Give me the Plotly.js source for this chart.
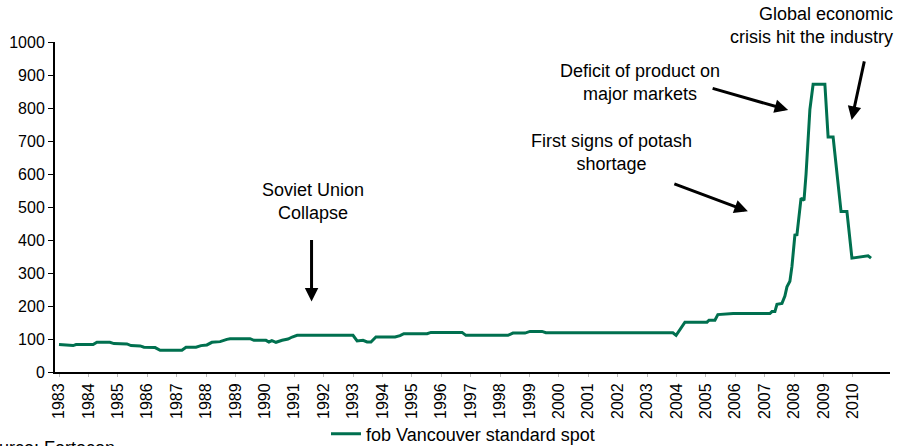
<!DOCTYPE html>
<html>
<head>
<meta charset="utf-8">
<script src="https://cdn.plot.ly/plotly-3.0.1.min.js"></script>
<style>
  html, body { margin: 0; padding: 0; background: #fff; }
  #plot { width: 899px; height: 446px; }
</style>
</head>
<body>
<div id="plot"></div>
<script>
// potash price, fob Vancouver standard spot (USD/t)
let years = [
  1983.00, 1983.48, 1983.58, 1984.16, 1984.29, 1984.73, 1984.87, 1985.31, 1985.45, 1985.76,
  1985.89, 1986.27, 1986.44, 1987.18, 1987.32, 1987.66, 1987.83, 1988.03, 1988.20, 1988.48,
  1988.71, 1988.82, 1989.50, 1989.63, 1990.04, 1990.14, 1990.24, 1990.38, 1990.59, 1990.79,
  1990.93, 1991.10, 1993.00, 1993.14, 1993.34, 1993.48, 1993.61, 1993.78, 1994.43, 1994.60,
  1994.73, 1995.52, 1995.65, 1996.71, 1996.84, 1998.27, 1998.44, 1998.85, 1999.02, 1999.43,
  1999.56, 2003.88, 2003.99, 2004.29, 2005.04, 2005.11, 2005.31, 2005.41, 2005.93, 2007.18,
  2007.25, 2007.35, 2007.42, 2007.59, 2007.69, 2007.76, 2007.86, 2007.93, 2008.03, 2008.10,
  2008.24, 2008.34, 2008.41, 2008.48, 2008.54, 2008.65, 2009.05, 2009.16, 2009.33, 2009.60,
  2009.80, 2009.97, 2010.17, 2010.52, 2010.62
];
let prices = [
  83, 80, 83, 83, 90, 90, 86, 85, 80, 79,
  75, 74, 66, 66, 75, 75, 80, 82, 90, 92,
  99, 101, 101, 96, 96, 91, 95, 90, 96, 100,
  106, 111, 111, 94, 96, 91, 91, 106, 106, 110,
  116, 116, 120, 120, 111, 111, 118, 118, 123, 123,
  119, 119, 111, 151, 151, 157, 157, 174, 177, 177,
  183, 183, 205, 208, 230, 258, 275, 320, 415, 416,
  527, 520, 600, 730, 795, 872, 872, 712, 712, 486,
  486, 345, 348, 352, 345
];

let tickYears = [];
for (let y = 1983; y <= 2010; y++) tickYears.push(y);
let tickLabels = tickYears.map(String);

let seriesName = 'fob Vancouver standard spot';
let lineColor = '#00704f';
let fontFamily = 'Liberation Sans, Arial, sans-serif';

// plot area in page pixels, used to place the notes outside it
let plotL = 55, plotR = 890, plotT = 42, plotB = 372;
function px(x) { return (x - plotL) / (plotR - plotL); }
function py(y) { return (plotB - y) / (plotB - plotT); }

let trace = {
  x: years,
  y: prices,
  type: 'scatter',
  mode: 'lines',
  name: seriesName,
  line: { color: lineColor, width: 3 }
};

function arrow(x, y, ax, ay) {
  return {
    x: x, y: y, xref: 'x', yref: 'y',
    ax: ax, ay: ay, axref: 'pixel', ayref: 'pixel',
    text: '', showarrow: true,
    arrowhead: 2, arrowsize: 0.9, arrowwidth: 3, arrowcolor: '#000'
  };
}

function label(x, y, text, xanchor, align) {
  return {
    x: px(x), y: py(y), xref: 'paper', yref: 'paper',
    text: text, showarrow: false,
    xanchor: xanchor || 'center', yanchor: 'middle',
    align: align || 'center',
    font: { family: fontFamily, size: 18, color: '#000' }
  };
}

let layout = {
  width: 899,
  height: 446,
  margin: { l: plotL, r: 899 - plotR, t: plotT, b: 446 - plotB },
  paper_bgcolor: '#fff',
  plot_bgcolor: '#fff',
  font: { family: fontFamily, size: 16, color: '#000' },
  showlegend: true,
  legend: {
    orientation: 'h',
    xref: 'container', yref: 'container',
    x: 326 / 899, xanchor: 'left',
    y: 1 - 434 / 446, yanchor: 'middle',
    font: { family: fontFamily, size: 18, color: '#000' },
    bgcolor: 'rgba(0,0,0,0)'
  },
  xaxis: {
    range: [1982.864, 2011.265],
    tickmode: 'array',
    tickvals: tickYears,
    ticktext: tickLabels,
    tickangle: -90,
    showgrid: false,
    zeroline: false,
    showline: true,
    linecolor: '#000',
    linewidth: 2,
    ticks: 'outside',
    ticklen: 3,
    tickcolor: '#bbb',
    tickfont: { size: 16 }
  },
  yaxis: {
    range: [0, 1000],
    tickvals: [0, 100, 200, 300, 400, 500, 600, 700, 800, 900, 1000],
    showgrid: false,
    zeroline: false,
    showline: true,
    linecolor: '#000',
    linewidth: 2,
    ticks: 'outside',
    ticklen: 5,
    tickcolor: '#000',
    tickfont: { size: 16 }
  },
  annotations: [
    label(313, 201, 'Soviet Union<br>Collapse'),
    arrow(1991.59, 214, 0, -63),
    label(611.5, 152.5, 'First signs of potash<br>shortage'),
    arrow(2006.43, 487, -75, -28),
    label(640, 82, 'Deficit of product on<br>major markets'),
    arrow(2007.80, 794, -77, -22),
    label(895, 26, 'Global economic<br>crisis hit the industry', 'right', 'right'),
    arrow(2009.96, 764, 13, -60),
    {
      x: px(117), y: py(448), xref: 'paper', yref: 'paper',
      text: 'Source: Fertecon', showarrow: false,
      xanchor: 'right', yanchor: 'middle',
      font: { family: fontFamily, size: 18, color: '#000' }
    }
  ]
};

Plotly.newPlot('plot', [trace], layout, { displayModeBar: false, staticPlot: true });
</script>
</body>
</html>
